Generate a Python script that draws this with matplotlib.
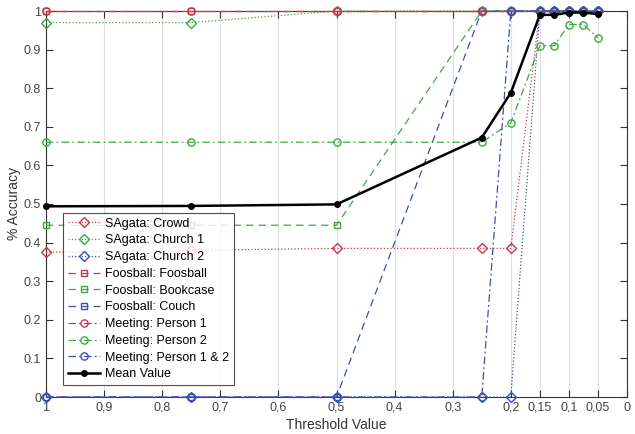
import matplotlib.pyplot as plt

plt.rcParams['font.family'] = ['Liberation Sans', 'DejaVu Sans']

# ========== Data ==========
thresholds = [1, 0.75, 0.5, 0.25, 0.2, 0.15, 0.125, 0.1, 0.075, 0.05]

sagata_crowd = [0.375, 0.38, 0.385, 0.385, 0.385, 1, 1, 1, 1, 1]
sagata_church1 = [0.97, 0.97, 1, 1, 1, 1, 1, 1, 1, 1]
sagata_church2 = [0, 0, 0, 0, 0, 1, 1, 1, 1, 1]
foos_foosball = [1, 1, 1, 1, 1, 1, 1, 1, 1, 1]
foos_bookcase = [0.445, 0.445, 0.445, 1, 1, 1, 1, 1, 1, 1]
foos_couch = [0, 0, 0, 1, 1, 1, 1, 1, 1, 1]
meet_person1 = [1, 1, 1, 1, 1, 1, 1, 1, 1, 1]
meet_person2 = [0.66, 0.66, 0.66, 0.66, 0.71, 0.91, 0.91, 0.965, 0.965, 0.93]
meet_person12 = [0, 0, 0, 0, 1, 1, 1, 1, 1, 1]
mean_value = [0.494, 0.495, 0.499, 0.672, 0.788, 0.99, 0.99, 0.996, 0.996, 0.992]

x_ticks = [1, 0.9, 0.8, 0.7, 0.6, 0.5, 0.4, 0.3, 0.2, 0.15, 0.1, 0.05, 0]
x_tick_labels = ['1', '0,9', '0,8', '0,7', '0,6', '0,5', '0,4', '0,3', '0,2',
                 '0,15', '0,1', '0,05', '0']
y_ticks = [0, 0.1, 0.2, 0.3, 0.4, 0.5, 0.6, 0.7, 0.8, 0.9, 1]
y_tick_labels = ['0', '0.1', '0.2', '0.3', '0.4', '0.5', '0.6', '0.7', '0.8', '0.9', '1']

RED = '#C8374E'
GREEN = '#3EAA3E'
BLUE = '#3A4FB5'

series = [
    ('SAgata: Crowd', sagata_crowd, RED, ':', 'D'),
    ('SAgata: Church 1', sagata_church1, GREEN, ':', 'D'),
    ('SAgata: Church 2', sagata_church2, BLUE, ':', 'D'),
    ('Foosball: Foosball', foos_foosball, RED, (0, (6, 4)), 's'),
    ('Foosball: Bookcase', foos_bookcase, GREEN, (0, (6, 4)), 's'),
    ('Foosball: Couch', foos_couch, BLUE, (0, (6, 4)), 's'),
    ('Meeting: Person 1', meet_person1, RED, (0, (6, 2.5, 1.5, 2.5)), 'o'),
    ('Meeting: Person 2', meet_person2, GREEN, (0, (6, 2.5, 1.5, 2.5)), 'o'),
    ('Meeting: Person 1 & 2', meet_person12, BLUE, (0, (6, 2.5, 1.5, 2.5)), 'o'),
]

# ========== Figure ==========
fig = plt.figure(figsize=(6.35, 4.34), dpi=100)
ax = fig.add_axes([46 / 635, 37 / 434, 581 / 635, 386 / 434])

for name, vals, color, ls, mk in series:
    ms = {'D': 5, 's': 4.5, 'o': 5.2}[mk]
    ax.plot(thresholds, vals, color=color, linestyle=ls, linewidth=0.9,
            marker=mk, markersize=ms, markerfacecolor='none',
            markeredgecolor=color, markeredgewidth=1.0, label=name,
            clip_on=False, zorder=3)

ax.plot(thresholds, mean_value, color='black', linewidth=1.8, marker='o',
        markersize=4, label='Mean Value', clip_on=False, zorder=4)

ax.set_xlim(1, 0)
ax.set_ylim(0, 1)
ax.set_xticks(x_ticks)
ax.set_xticklabels(x_tick_labels)
ax.set_yticks(y_ticks)
ax.set_yticklabels(y_tick_labels)

ax.grid(axis='x', color='#E0E0E0', linewidth=0.9)
ax.set_axisbelow(True)
ax.tick_params(direction='in', top=True, right=True, length=5, width=0.8,
               labelsize=9, colors='#333333', labelcolor='#444444')
for sp in ax.spines.values():
    sp.set_color('#333333')
    sp.set_linewidth(0.8)

ax.set_xlabel('Threshold Value', fontsize=10, color='#333333', labelpad=3)
ax.set_ylabel('% Accuracy', fontsize=10, color='#333333', labelpad=2)

leg = ax.legend(loc='lower left', bbox_to_anchor=(0.029, 0.03), fontsize=9,
                frameon=True, fancybox=False, edgecolor='#222222',
                handlelength=2.6, handletextpad=0.4, labelspacing=0.38,
                borderpad=0.4, borderaxespad=0)
leg.get_frame().set_linewidth(0.8)
leg.set_zorder(10)

fig.savefig('out.png', dpi=100)
